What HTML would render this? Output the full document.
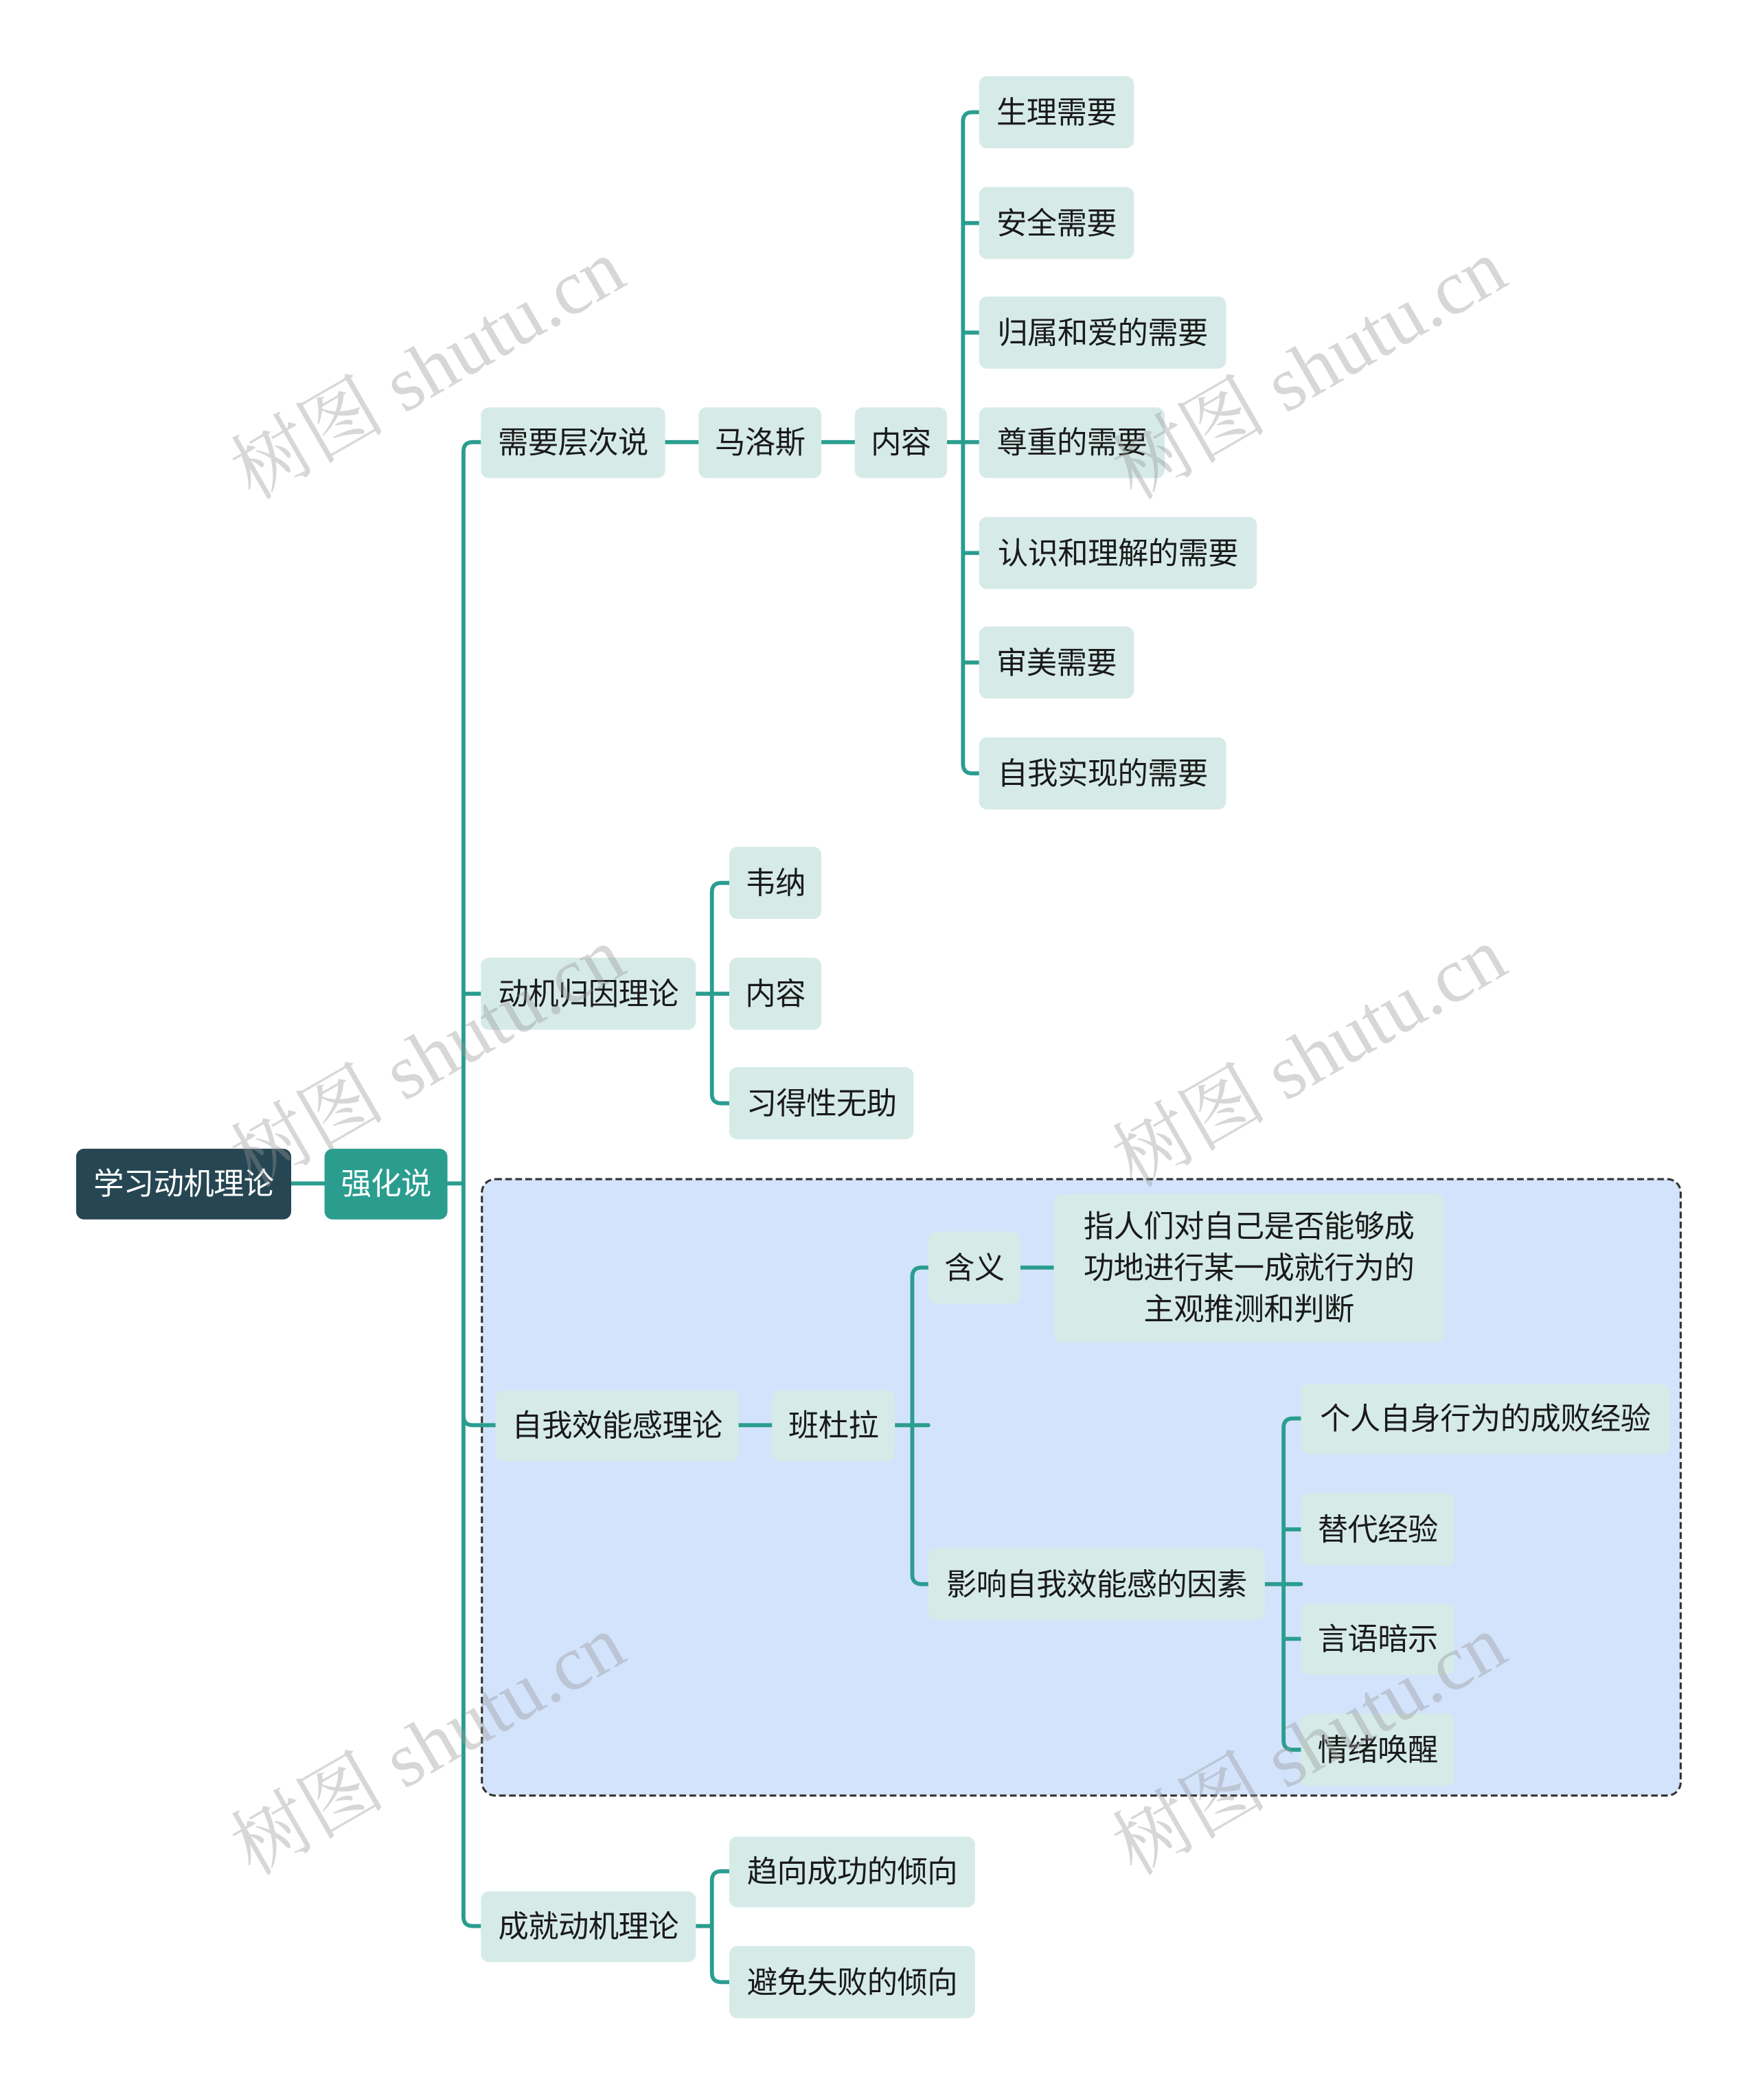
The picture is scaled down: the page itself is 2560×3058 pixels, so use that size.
<!DOCTYPE html>
<html><head><meta charset="utf-8"><style>
html,body{margin:0;padding:0;background:#fff;}
body{width:2560px;height:3048px;overflow:hidden;position:relative;}
#c{position:absolute;left:0;top:0;width:1320px;height:1572px;transform:scale(1.945);transform-origin:0 0;font-family:"Liberation Sans","Noto Sans CJK SC",sans-serif;}
.n{position:absolute;box-sizing:border-box;display:flex;align-items:center;justify-content:center;text-align:center;background:#d6ebe7;color:#1a1a1a;font-size:22.8px;border-radius:6px;line-height:31px;white-space:nowrap;letter-spacing:-0.3px;}
.wm{position:absolute;font-family:"Liberation Serif","Noto Serif CJK SC",serif;font-size:58px;color:rgba(150,150,150,0.38);transform:rotate(-30deg);transform-origin:center;white-space:nowrap;}
</style></head><body><div id="c">
<svg width="1320" height="1572" style="position:absolute;left:0;top:0">
<rect x="360.8" y="882.8" width="897.5" height="461.5" rx="10" fill="#d3e3fb" stroke="#333" stroke-width="1.6" stroke-dasharray="5 2.5"/>
</svg>
<svg width="1320" height="1572" style="position:absolute;left:0;top:0" fill="none" stroke="#2a9d8f" stroke-width="3" stroke-linecap="round">
<path d="M218 886H243M335 886H347"/>
<path d="M360 331H354Q347 331 347 338V1435Q347 1442 354 1442H360"/>
<path d="M347 744H360M347 1060Q347 1067 354 1067H371"/>
<path d="M498 331H523M615 331H640M709 331H733"/>
<path d="M733 84H728Q721 84 721 91V572Q721 579 728 579H733M721 167H733M721 249H733M721 414H733M721 496H733"/>
<path d="M521 744H546M546 661H540Q533 661 533 668V819Q533 826 540 826H546"/>
<path d="M553 1067H578M670 1067H695M695 949H690Q683 949 683 956V1179Q683 1186 690 1186H695"/>
<path d="M764 949H789"/>
<path d="M947 1186H974M974 1062H968Q961 1062 961 1069V1303Q961 1310 968 1310H974M961 1145H974M961 1227H974"/>
<path d="M521 1442H533M546 1401H540Q533 1401 533 1408V1477Q533 1484 540 1484H546"/>
</svg>
<div class="n" style="left:57px;top:860px;width:161px;height:53px;background:#264653;color:#fff;">学习动机理论</div>
<div class="n" style="left:243px;top:860px;width:92px;height:53px;background:#2a9d8f;color:#fff;">强化说</div>
<div class="n" style="left:360px;top:305px;width:138px;height:53px;">需要层次说</div>
<div class="n" style="left:523px;top:305px;width:92px;height:53px;">马洛斯</div>
<div class="n" style="left:640px;top:305px;width:69px;height:53px;">内容</div>
<div class="n" style="left:733px;top:57px;width:116px;height:54px;">生理需要</div>
<div class="n" style="left:733px;top:140px;width:116px;height:54px;">安全需要</div>
<div class="n" style="left:733px;top:222px;width:185px;height:54px;">归属和爱的需要</div>
<div class="n" style="left:733px;top:305px;width:139px;height:53px;">尊重的需要</div>
<div class="n" style="left:733px;top:387px;width:208px;height:54px;">认识和理解的需要</div>
<div class="n" style="left:733px;top:469px;width:116px;height:54px;">审美需要</div>
<div class="n" style="left:733px;top:552px;width:185px;height:54px;">自我实现的需要</div>
<div class="n" style="left:360px;top:717px;width:161px;height:54px;">动机归因理论</div>
<div class="n" style="left:546px;top:634px;width:69px;height:54px;">韦纳</div>
<div class="n" style="left:546px;top:717px;width:69px;height:54px;">内容</div>
<div class="n" style="left:546px;top:799px;width:138px;height:54px;">习得性无助</div>
<div class="n" style="left:371px;top:1041px;width:182px;height:53px;">自我效能感理论</div>
<div class="n" style="left:578px;top:1041px;width:92px;height:53px;">班杜拉</div>
<div class="n" style="left:695px;top:922px;width:69px;height:54px;">含义</div>
<div class="n" style="left:789px;top:894px;width:292px;height:111px;white-space:normal;">指人们对自己是否能够成<br>功地进行某一成就行为的<br>主观推测和判断</div>
<div class="n" style="left:695px;top:1159px;width:252px;height:54px;">影响自我效能感的因素</div>
<div class="n" style="left:974px;top:1036px;width:276px;height:53px;">个人自身行为的成败经验</div>
<div class="n" style="left:974px;top:1118px;width:115px;height:54px;">替代经验</div>
<div class="n" style="left:974px;top:1201px;width:115px;height:53px;">言语暗示</div>
<div class="n" style="left:974px;top:1283px;width:115px;height:54px;">情绪唤醒</div>
<div class="n" style="left:360px;top:1416px;width:161px;height:53px;">成就动机理论</div>
<div class="n" style="left:546px;top:1375px;width:184px;height:53px;">趋向成功的倾向</div>
<div class="n" style="left:546px;top:1457px;width:184px;height:54px;">避免失败的倾向</div>
<div class="wm" style="left:155px;top:230px;">树图 shutu.cn</div>
<div class="wm" style="left:815px;top:230px;">树图 shutu.cn</div>
<div class="wm" style="left:155px;top:745px;">树图 shutu.cn</div>
<div class="wm" style="left:815px;top:745px;">树图 shutu.cn</div>
<div class="wm" style="left:155px;top:1260px;">树图 shutu.cn</div>
<div class="wm" style="left:815px;top:1260px;">树图 shutu.cn</div>
</div></body></html>
